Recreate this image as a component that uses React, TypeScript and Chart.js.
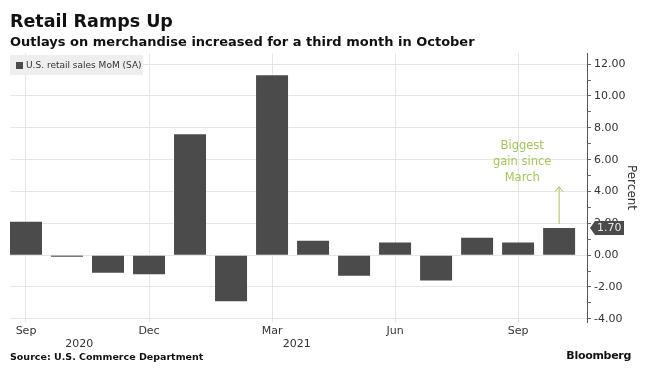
import React, { useEffect, useRef } from "react";
import { Chart, registerables } from "chart.js";

Chart.register(...registerables);

const months = ["Sep", "Oct", "Nov", "Dec", "Jan", "Feb", "Mar", "Apr", "May", "Jun", "Jul", "Aug", "Sep", "Oct"];
const salesMoM = [2.1, -0.1, -1.1, -1.2, 7.6, -2.9, 11.3, 0.9, -1.3, 0.8, -1.6, 1.1, 0.8, 1.7];
const xTickIndices = [0, 3, 6, 9, 12];
const yTickValues = [-4, -3, -2, -1, 0, 1, 2, 3, 4, 5, 6, 7, 8, 9, 10, 11, 12];
const yearLabels = [
  { label: "2020", at: 1.3 },
  { label: "2021", at: 6.6 },
];
const annotationLines = ["Biggest", "gain since", "March"];
const annotationAt = { x: 12.1, y: 5.85 };
const arrowRange = { from: 1.95, to: 4.3 };

const FONT = "'DejaVu Sans', Verdana, sans-serif";
const BAR = "#4b4b4b";
const GRID = "#e6e6e6";
const GREEN = "#a3c55a";

export default function App() {
  const ref = useRef<HTMLCanvasElement | null>(null);

  useEffect(() => {
    document.body.style.margin = "0";
    const canvas = ref.current!;
    const lastIdx = salesMoM.length - 1;

    const extras = {
      id: "extras",
      afterDraw(chart: any) {
        const { ctx, scales, chartArea } = chart;
        const x = scales.x;
        const y = scales.y;
        ctx.save();
        ctx.fillStyle = "#333";
        ctx.font = `11px ${FONT}`;
        ctx.textAlign = "center";
        ctx.textBaseline = "middle";
        yearLabels.forEach((yl) => {
          ctx.fillText(yl.label, x.getPixelForValue(yl.at), chartArea.bottom + 22);
        });
        ctx.fillStyle = GREEN;
        ctx.font = `11.5px ${FONT}`;
        const cx = x.getPixelForValue(annotationAt.x);
        const cy = y.getPixelForValue(annotationAt.y);
        annotationLines.forEach((t, i) => {
          ctx.fillText(t, cx, cy + (i - 1) * 16);
        });
        const ax = x.getPixelForValue(lastIdx);
        const y1 = y.getPixelForValue(arrowRange.from);
        const y2 = y.getPixelForValue(arrowRange.to);
        ctx.strokeStyle = GREEN;
        ctx.lineWidth = 1;
        ctx.beginPath();
        ctx.moveTo(ax, y1);
        ctx.lineTo(ax, y2);
        ctx.moveTo(ax - 4, y2 + 5);
        ctx.lineTo(ax, y2);
        ctx.lineTo(ax + 4, y2 + 5);
        ctx.stroke();
        const last = salesMoM[lastIdx];
        const vy = y.getPixelForValue(last);
        const bx = chartArea.right + 3;
        const bw = 34;
        const bh = 14;
        ctx.fillStyle = BAR;
        ctx.beginPath();
        ctx.moveTo(bx, vy);
        ctx.lineTo(bx + 5, vy - bh / 2);
        ctx.lineTo(bx + bw, vy - bh / 2);
        ctx.lineTo(bx + bw, vy + bh / 2);
        ctx.lineTo(bx + 5, vy + bh / 2);
        ctx.closePath();
        ctx.fill();
        ctx.fillStyle = "#e8e8e8";
        ctx.font = `11px ${FONT}`;
        ctx.textAlign = "left";
        ctx.fillText(last.toFixed(2), bx + 7, vy + 0.5);
        ctx.restore();
      },
    };

    const chart = new Chart(canvas, {
      type: "bar",
      data: {
        datasets: [
          {
            label: "U.S. retail sales MoM (SA)",
            data: salesMoM.map((v, i) => ({ x: i, y: v })),
            backgroundColor: BAR,
            barPercentage: 1,
            categoryPercentage: 0.78,
          },
        ],
      },
      options: {
        animation: false,
        responsive: false,
        maintainAspectRatio: false,
        layout: { padding: { left: 10, right: 0, top: 53, bottom: 29 } },
        plugins: { legend: { display: false }, tooltip: { enabled: false } },
        scales: {
          x: {
            type: "linear",
            offset: false,
            min: -0.39,
            max: 13.68,
            afterBuildTicks: (s: any) => {
              s.ticks = xTickIndices.map((v) => ({ value: v }));
            },
            afterFit: (s: any) => {
              s.height = 20;
            },
            ticks: {
              autoSkip: false,
              maxRotation: 0,
              padding: 3,
              color: "#333",
              font: { family: FONT, size: 11 },
              callback: (v: any) => months[v as number] ?? "",
            },
            grid: { color: GRID, drawTicks: false, offset: false },
            border: { display: false },
          },
          y: {
            type: "linear",
            position: "right",
            min: -4.2,
            max: 12.7,
            afterBuildTicks: (s: any) => {
              s.ticks = yTickValues.map((v) => ({ value: v }));
            },
            afterFit: (s: any) => {
              s.width = 58;
            },
            ticks: {
              autoSkip: false,
              padding: 3,
              color: "#333",
              font: { family: FONT, size: 11 },
              callback: (v: any) => ((v as number) % 2 === 0 ? (v as number).toFixed(2) : ""),
            },
            grid: {
              color: (c: any) => (c.tick && c.tick.value % 2 === 0 ? GRID : "rgba(0,0,0,0)"),
              tickColor: "#666",
              tickLength: 4,
            },
            border: { display: true, color: "#555", width: 1 },
            title: {
              display: true,
              text: "Percent",
              color: "#333",
              font: { family: FONT, size: 12 },
              padding: { top: 7, bottom: 7 },
            },
          },
        },
      },
      plugins: [extras],
    });
    return () => chart.destroy();
  }, []);

  return (
    <div style={{ position: "relative", width: 645, height: 371, background: "#fff", fontFamily: FONT, overflow: "hidden" }}>
      <canvas ref={ref} width={645} height={371} style={{ position: "absolute", left: 0, top: 0 }} />
      <div style={{ position: "absolute", left: 10, top: 10, fontSize: 17.5, fontWeight: "bold", color: "#111", lineHeight: "22px" }}>
        Retail Ramps Up
      </div>
      <div style={{ position: "absolute", left: 10, top: 33, fontSize: 13, fontWeight: "bold", color: "#111", lineHeight: "17px", whiteSpace: "nowrap" }}>
        Outlays on merchandise increased for a third month in October
      </div>
      <div style={{ position: "absolute", left: 10, top: 55, width: 133, height: 20, background: "#eeeeee", display: "flex", alignItems: "center" }}>
        <span style={{ display: "inline-block", width: 7, height: 7, background: BAR, marginLeft: 6, marginRight: 3 }} />
        <span style={{ fontSize: 9, color: "#333", whiteSpace: "nowrap" }}>U.S. retail sales MoM (SA)</span>
      </div>
      <div style={{ position: "absolute", left: 10, top: 351, fontSize: 9.5, fontWeight: "bold", color: "#111", whiteSpace: "nowrap" }}>
        Source: U.S. Commerce Department
      </div>
      <div style={{ position: "absolute", right: 14, top: 349, fontSize: 11, fontWeight: "bold", color: "#111", whiteSpace: "nowrap", letterSpacing: -0.3 }}>
        Bloomberg
      </div>
    </div>
  );
}
